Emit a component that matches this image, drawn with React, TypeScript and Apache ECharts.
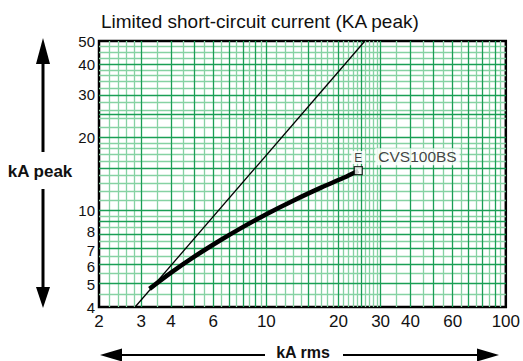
import React, { useEffect, useRef } from "react";
import * as echarts from "echarts";

const xTickLabels = [2, 3, 4, 6, 10, 20, 30, 40, 60, 100];
const yTickLabels = [4, 5, 6, 7, 8, 10, 20, 30, 40, 50];

const xGridDark = [3, 4, 5, 6, 7, 8, 9, 10, 15, 20, 25, 30, 40, 50, 60, 70, 80, 90];
const xGridLight = [2.2, 2.4, 2.6, 2.8, 3.5, 4.5, 5.5, 6.5, 7.5, 8.5, 9.5, 11, 12, 13, 14, 16, 17, 18, 19, 21, 22, 23, 24, 26, 27, 28, 29, 35, 45, 55, 65, 75, 85, 95];
const yGridDark = [5, 6, 7, 8, 9, 10, 15, 20, 25, 30, 40];
const yGridLight = [4.5, 5.5, 6.5, 7.5, 8.5, 9.5, 11, 12, 13, 14, 16, 17, 18, 19, 22, 24, 26, 28, 32, 34, 36, 38, 42.5, 45, 47.5];

// Prospective rms current vs limited peak current (CVS100BS)
const curveX = [3.25, 4.0, 5.0, 6.5, 8.0, 10, 13, 17, 21, 24.2];
const curveY = [4.75, 5.54, 6.45, 7.59, 8.56, 9.66, 11.0, 12.45, 13.64, 14.6];

// Reference line (no limitation)
const refX = [2.83, 25.8];
const refY = [4, 50];

const endPoint = [24.2, 14.6];
const curveName = "CVS100BS";

const FONT = "'Liberation Sans', Arial, Helvetica, sans-serif";

export default function App() {
  const ref = useRef<HTMLDivElement>(null);

  useEffect(() => {
    if (!ref.current) return;
    const chart = echarts.init(ref.current, undefined, { renderer: "svg" });

    const gridLines = (vals: number[], axis: "xAxis" | "yAxis") =>
      vals.map((v) => ({ [axis]: v }));

    const yLabelStyle = { fontSize: 15, color: "#111", fontFamily: FONT };

    const option: any = {
      animation: false,
      backgroundColor: "#fff",
      textStyle: { fontFamily: FONT },
      title: {
        text: "Limited short-circuit current (KA peak)",
        left: 96,
        top: 7,
        textStyle: { fontSize: 19, fontWeight: "normal", color: "#111", fontFamily: FONT },
      },
      grid: {
        left: 99,
        top: 41,
        width: 407,
        height: 266,
        show: true,
        borderColor: "#000",
        borderWidth: 2.5,
        backgroundColor: "#fff",
      },
      xAxis: {
        type: "log",
        logBase: 10,
        min: 2,
        max: 100,
        axisLine: { show: false },
        axisTick: { show: false },
        splitLine: { show: false },
        minorSplitLine: { show: false },
        axisLabel: {
          customValues: xTickLabels,
          fontSize: 17,
          color: "#111",
          margin: 6,
          fontFamily: FONT,
          formatter: (v: number) => String(v),
        },
      },
      yAxis: {
        type: "log",
        logBase: 10,
        min: 4,
        max: 50,
        axisLine: { show: false },
        axisTick: { show: false },
        splitLine: { show: false },
        minorSplitLine: { show: false },
        axisLabel: {
          customValues: yTickLabels,
          fontSize: 15,
          color: "#111",
          margin: 4,
          fontFamily: FONT,
          formatter: (v: number) => {
            if (v === 8) return "{up|8}";
            if (v === 7 || v === 6) return "{down|" + v + "}";
            if (v === 5) return "{down2|5}";
            return "{n|" + v + "}";
          },
          rich: {
            n: { ...yLabelStyle },
            up: { ...yLabelStyle, padding: [0, 0, 5, 0] },
            down: { ...yLabelStyle, padding: [5, 0, 0, 0] },
            down2: { ...yLabelStyle, padding: [3, 0, 0, 0] },
          },
        },
      },
      series: [
        {
          type: "line",
          data: [],
          silent: true,
          z: 1,
          markLine: {
            silent: true,
            z: 1,
            symbol: "none",
            label: { show: false },
            lineStyle: { color: "#86d2a3", width: 1.3, type: "solid" },
            data: [...gridLines(xGridLight, "xAxis"), ...gridLines(yGridLight, "yAxis")],
          },
        },
        {
          type: "line",
          data: [],
          silent: true,
          z: 1,
          markLine: {
            silent: true,
            z: 1,
            symbol: "none",
            label: { show: false },
            lineStyle: { color: "#1a9e55", width: 1.3, type: "solid" },
            data: [...gridLines(xGridDark, "xAxis"), ...gridLines(yGridDark, "yAxis")],
          },
        },
        {
          type: "line",
          data: refX.map((x, i) => [x, refY[i]]),
          showSymbol: false,
          lineStyle: { color: "#000", width: 1.3 },
          z: 6,
        },
        {
          type: "line",
          data: curveX.map((x, i) => [x, curveY[i]]),
          smooth: 0.3,
          showSymbol: false,
          lineStyle: { color: "#000", width: 4.5 },
          z: 7,
        },
        {
          type: "scatter",
          data: [endPoint],
          symbol: "rect",
          symbolSize: 8,
          itemStyle: { color: "#fff", borderColor: "#000", borderWidth: 1.3 },
          z: 8,
          label: {
            show: true,
            position: "top",
            distance: 2,
            formatter: "E",
            fontSize: 12,
            color: "#111",
            backgroundColor: "#fff",
            padding: [1, 3, 0, 3],
            fontFamily: FONT,
          },
        },
        {
          type: "scatter",
          data: [endPoint],
          symbolSize: 0,
          z: 8,
          label: {
            show: true,
            position: "right",
            offset: [12, -14],
            formatter: curveName,
            fontSize: 15.5,
            color: "#111",
            backgroundColor: "#fff",
            padding: [1, 3, 0, 3],
            fontFamily: FONT,
          },
        },
      ],
      graphic: [
        { type: "polygon", shape: { points: [[43, 38], [36, 64], [50, 64]] }, style: { fill: "#000" } },
        { type: "line", shape: { x1: 43, y1: 63, x2: 43, y2: 152 }, style: { stroke: "#000", lineWidth: 3 } },
        {
          type: "text",
          x: 40,
          y: 171,
          style: { text: "kA peak", fontSize: 17, fontWeight: "bold", fill: "#111", align: "center", verticalAlign: "middle", fontFamily: FONT },
        },
        { type: "line", shape: { x1: 43, y1: 189, x2: 43, y2: 288 }, style: { stroke: "#000", lineWidth: 3 } },
        { type: "polygon", shape: { points: [[36, 287], [50, 287], [43, 308]] }, style: { fill: "#000" } },

        { type: "polygon", shape: { points: [[100, 355], [122, 348.5], [122, 361.5]] }, style: { fill: "#000" } },
        { type: "line", shape: { x1: 121, y1: 355, x2: 265, y2: 355 }, style: { stroke: "#000", lineWidth: 2 } },
        {
          type: "text",
          x: 303,
          y: 352,
          style: { text: "kA rms", fontSize: 16, lineHeight: 16, fontWeight: "bold", fill: "#111", align: "center", verticalAlign: "middle", fontFamily: FONT },
        },
        { type: "line", shape: { x1: 343, y1: 355, x2: 478, y2: 355 }, style: { stroke: "#000", lineWidth: 2 } },
        { type: "polygon", shape: { points: [[477, 348.5], [477, 361.5], [499, 355]] }, style: { fill: "#000" } },
      ],
    };

    chart.setOption(option);
    return () => chart.dispose();
  }, []);

  return (
    <div
      ref={ref}
      style={{ position: "fixed", left: 0, top: 0, width: 523, height: 361, background: "#fff" }}
    />
  );
}
